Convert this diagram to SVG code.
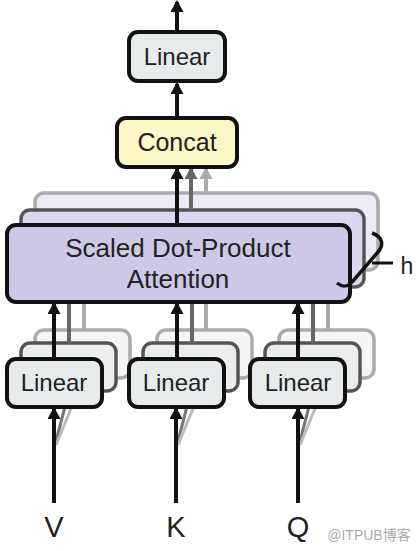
<svg xmlns="http://www.w3.org/2000/svg" width="418" height="551" viewBox="0 0 418 551">
<style>
.t{font-family:"Liberation Sans",Arial,sans-serif;fill:#222;text-anchor:middle}
.box{stroke:#111;stroke-width:4}
.lin{fill:#e8ebec}
.b2{stroke:#555;stroke-width:3.5}
.b3{stroke:#aaa;stroke-width:3.5}
.ab{stroke:#111;stroke-width:4;fill:none}
.ag{stroke:#666;stroke-width:4;fill:none}
.al{stroke:#aaa;stroke-width:4;fill:none}
</style>
<defs>
<marker id="mk" markerUnits="userSpaceOnUse" markerWidth="12" markerHeight="13" refX="10" refY="6.5" orient="auto"><path d="M0,0 L12,6.5 L0,13 z" fill="#111"/></marker>
<marker id="mg" markerUnits="userSpaceOnUse" markerWidth="12" markerHeight="13" refX="10" refY="6.5" orient="auto"><path d="M0,0 L12,6.5 L0,13 z" fill="#666"/></marker>
<marker id="ml" markerUnits="userSpaceOnUse" markerWidth="12" markerHeight="13" refX="10" refY="6.5" orient="auto"><path d="M0,0 L12,6.5 L0,13 z" fill="#aaa"/></marker>
</defs>
<g id="attention-layers">
<rect x="35" y="193" width="343" height="77" rx="9" fill="#eceaf4" class="b3"/>
<rect x="21" y="210" width="343" height="77" rx="9" fill="#dcd8ee" class="b2"/>
</g>
<g id="linear-layers">
<rect x="35" y="330" width="95" height="48" rx="9" fill="#f4f5f5" class="b3"/>
<rect x="21" y="343" width="95" height="48" rx="9" fill="#eceeee" class="b2"/>
<rect x="157" y="330" width="95" height="48" rx="9" fill="#f4f5f5" class="b3"/>
<rect x="143" y="343" width="95" height="48" rx="9" fill="#eceeee" class="b2"/>
<rect x="279" y="330" width="95" height="48" rx="9" fill="#f4f5f5" class="b3"/>
<rect x="265" y="343" width="95" height="48" rx="9" fill="#eceeee" class="b2"/>
</g>
<g id="connectors">
<line x1="177" y1="32" x2="177" y2="2" class="ab" marker-end="url(#mk)"/>
<line x1="177" y1="118" x2="177" y2="84" class="ab" marker-end="url(#mk)"/>
<line x1="177" y1="225" x2="177" y2="169" class="ab" marker-end="url(#mk)"/>
<line x1="191" y1="210" x2="191" y2="169" class="ag" marker-end="url(#mg)"/>
<line x1="206" y1="193" x2="206" y2="169" class="al" marker-end="url(#ml)"/>
<line x1="54" y1="359" x2="54" y2="304" class="ab" marker-end="url(#mk)"/>
<line x1="69" y1="343" x2="69" y2="304" class="ag"/>
<line x1="84" y1="330" x2="84" y2="304" class="al"/>
<line x1="177" y1="359" x2="177" y2="304" class="ab" marker-end="url(#mk)"/>
<line x1="192" y1="343" x2="192" y2="304" class="ag"/>
<line x1="206" y1="330" x2="206" y2="304" class="al"/>
<line x1="298" y1="359" x2="298" y2="304" class="ab" marker-end="url(#mk)"/>
<line x1="313" y1="343" x2="313" y2="304" class="ag"/>
<line x1="328" y1="330" x2="328" y2="304" class="al"/>
<line x1="55" y1="445" x2="68" y2="395" stroke="#777" stroke-width="3"/>
<line x1="56" y1="445" x2="82" y2="382" stroke="#bbb" stroke-width="3"/>
<line x1="177" y1="445" x2="190" y2="395" stroke="#777" stroke-width="3"/>
<line x1="178" y1="445" x2="204" y2="382" stroke="#bbb" stroke-width="3"/>
<line x1="299" y1="445" x2="312" y2="395" stroke="#777" stroke-width="3"/>
<line x1="300" y1="445" x2="326" y2="382" stroke="#bbb" stroke-width="3"/>
<line x1="54" y1="503" x2="54" y2="409" class="ab" marker-end="url(#mk)"/>
<line x1="176" y1="503" x2="176" y2="409" class="ab" marker-end="url(#mk)"/>
<line x1="298" y1="503" x2="298" y2="409" class="ab" marker-end="url(#mk)"/>
</g>
<g id="linear-top">
<rect x="129" y="32" width="96" height="49" rx="9" class="box lin"/>
<text x="177" y="65" class="t" font-size="24">Linear</text>
</g>
<g id="concat">
<rect x="117" y="118" width="120" height="49" rx="9" fill="#fbf7c6" class="box"/>
<text x="177" y="151" class="t" font-size="25">Concat</text>
</g>
<g id="attention">
<rect x="7" y="225" width="343" height="77" rx="9" fill="#cdc8e6" class="box"/>
<text x="178" y="257" class="t" font-size="26">Scaled Dot-Product</text>
<text x="178" y="288" class="t" font-size="26">Attention</text>
</g>
<g id="h-brace">
<path d="M372,233 C383,237 384,245 378,252 L352,282 C348,287 342,287 337,283" fill="none" stroke="#111" stroke-width="3.5"/>
<line x1="372" y1="263" x2="393" y2="263" stroke="#111" stroke-width="3"/>
<text x="407" y="274" class="t" font-size="23">h</text>
</g>
<g id="linear-v">
<rect x="7" y="359" width="95" height="48" rx="9" class="box lin"/>
<text x="54" y="391" class="t" font-size="24">Linear</text>
</g>
<g id="linear-k">
<rect x="129" y="359" width="95" height="48" rx="9" class="box lin"/>
<text x="176" y="391" class="t" font-size="24">Linear</text>
</g>
<g id="linear-q">
<rect x="250" y="359" width="95" height="48" rx="9" class="box lin"/>
<text x="298" y="391" class="t" font-size="24">Linear</text>
</g>
<g id="inputs">
<text x="54" y="537" class="t" font-size="29">V</text>
<text x="176" y="537" class="t" font-size="29">K</text>
<text x="298" y="537" class="t" font-size="29">Q</text>
</g>
<text x="369" y="540" class="t" font-size="14" style="fill:#aaa;font-family:'Liberation Sans','Noto Sans CJK SC',sans-serif">@ITPUB博客</text>
</svg>
